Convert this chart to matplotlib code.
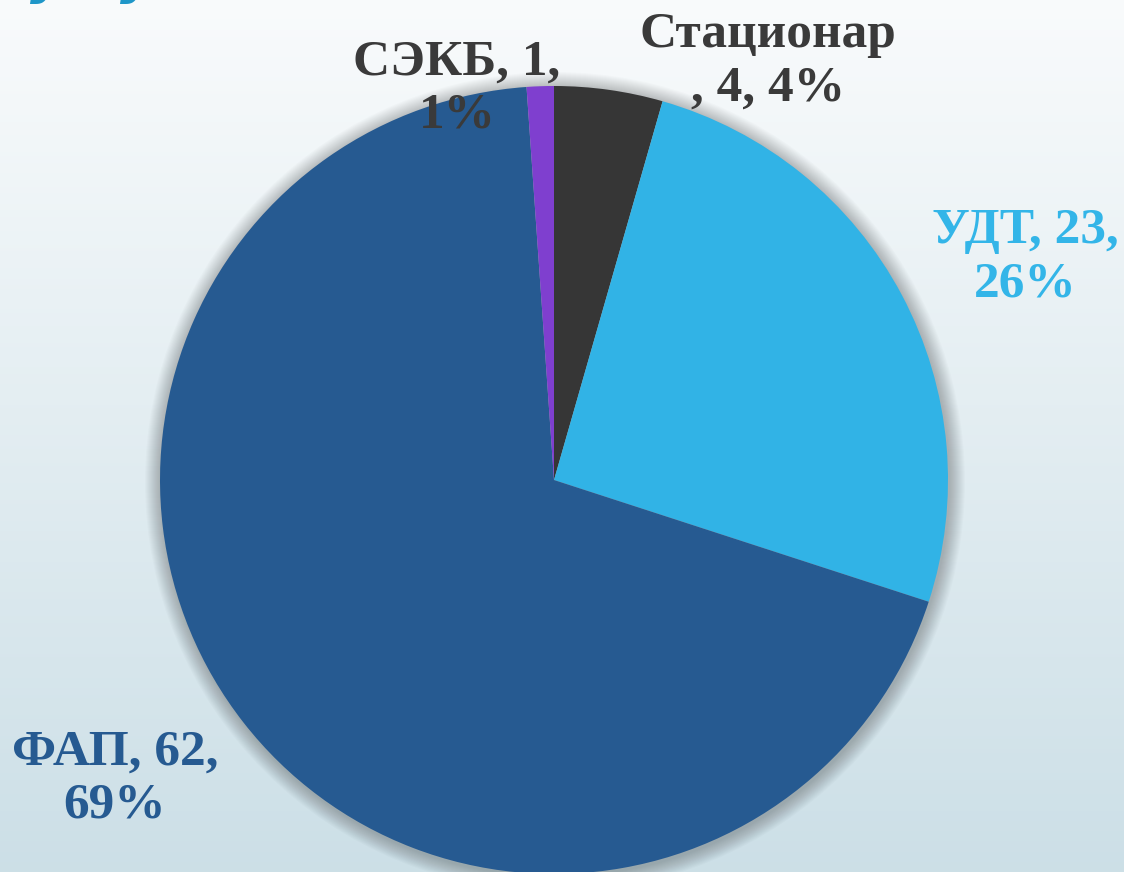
import numpy as np
import matplotlib.pyplot as plt
from matplotlib.patches import Circle

# data
labels = ['Стационар', 'УДТ', 'ФАП', 'СЭКБ']
values = [4, 23, 62, 1]
percents = ['4%', '26%', '69%', '1%']
colors = ['#363636', '#31B3E6', '#265A91', '#7F3FCF']
label_colors = ['#3A3A3A', '#33B5E8', '#265A91', '#3A3A3A']

W, H = 1124, 872
fig = plt.figure(figsize=(W / 100, H / 100), dpi=100)

# background gradient
bg = fig.add_axes([0, 0, 1, 1])
grad = np.linspace(0, 1, 256).reshape(-1, 1)
top = np.array([0.976, 0.984, 0.988])
bottom = np.array([0.80, 0.875, 0.905])
img = top + (bottom - top) * grad[..., None]
bg.imshow(img, aspect='auto', extent=[0, 1, 0, 1], origin='upper')
bg.set_axis_off()

ax = fig.add_axes([0, 0, 1, 1])
ax.set_xlim(0, W)
ax.set_ylim(0, H)
ax.set_aspect('equal')
ax.set_axis_off()

cx, cy, r = 554, H - 480, 394

# soft shadow around the pie
for i in range(16):
    ax.add_patch(Circle((cx + 1, cy - 2), r + 16 - i, color='#000000',
                        alpha=0.014, lw=0, zorder=1))

ax.pie(values, colors=colors, startangle=90, counterclock=False,
       center=(cx, cy), radius=r, frame=True,
       wedgeprops=dict(linewidth=0, zorder=2))
ax.set_xlim(0, W)
ax.set_ylim(0, H)
ax.set_axis_off()

font = dict(family='Liberation Serif', weight='bold', fontsize=37,
            ha='center', va='center', linespacing=1.22, zorder=5)

# label text with its centre (x, y) in picture pixels from the top-left
texts = {
    'Стационар': (f'{labels[0]}\n, {values[0]}, {percents[0]}', 768, 62),
    'УДТ': (f'{labels[1]}, {values[1]},\n{percents[1]}', 1025, 258),
    'ФАП': (f'{labels[2]}, {values[2]},\n{percents[2]}', 115, 779),
    'СЭКБ': (f'{labels[3]}, {values[3]},\n{percents[3]}', 457, 89),
}
for name, col in zip(labels, label_colors):
    s, x, y = texts[name]
    ax.text(x, H - y, s, color=col, **font)

# cut-off title fragment at the very top
for tx in (48, 138):
    ax.text(tx, H + 8, 'у', color='#1E96C8', fontsize=40,
            style='italic', weight='bold', family='DejaVu Sans',
            ha='center', va='baseline', zorder=5)

fig.savefig('out.png', dpi=100)
